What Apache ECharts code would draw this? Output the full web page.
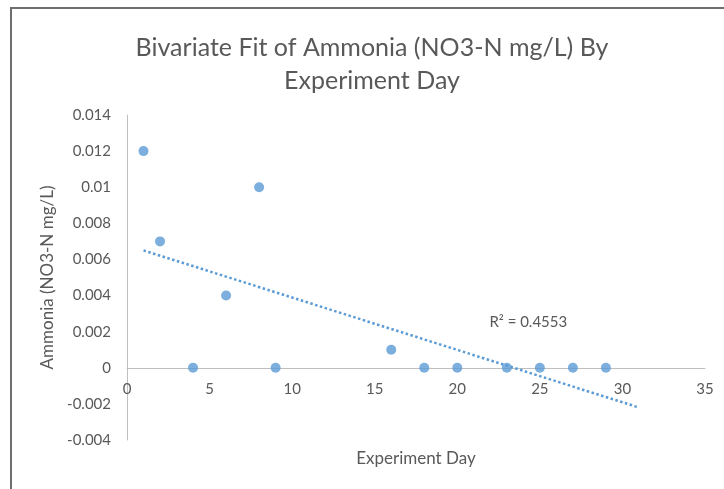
<!DOCTYPE html>
<html>
<head>
<meta charset="utf-8">
<script src="https://cdn.jsdelivr.net/npm/echarts@6/dist/echarts.min.js"></script>
<style>
  html, body { margin: 0; padding: 0; background: #fff; }
  #chart { width: 724px; height: 489px; }
</style>
</head>
<body>
<div id="chart"></div>
<script>
// experiment day vs ammonia readings
const days = [1, 2, 4, 6, 8, 9, 16, 18, 20, 23, 25, 27, 29];
const ammonia = [0.012, 0.007, 0, 0.004, 0.01, 0, 0.001, 0, 0, 0, 0, 0, 0];

// linear trendline end points as drawn in the picture
const trendDays = [1, 31];
const trendValues = [0.0065, -0.0022];
const rSquaredText = "R² = 0.4553";

const xTicks = [0, 5, 10, 15, 20, 25, 30, 35];
const yTicks = [-0.004, -0.002, 0, 0.002, 0.004, 0.006, 0.008, 0.01, 0.012, 0.014];

const blue = "#5b9bd5";
const grey = "#595959";
const font = "Lato";

const gridH = 325;
const yMin = yTicks[0];
const yMax = yTicks[yTicks.length - 1];
// x axis sits on the zero line
const zeroOffset = -gridH * (0 - yMin) / (yMax - yMin);

const chart = echarts.init(document.getElementById("chart"));

const option = {
  animation: false,
  backgroundColor: "#fff",
  textStyle: { fontFamily: font },
  title: {
    text: "Bivariate Fit of Ammonia (NO3-N mg/L) By\nExperiment Day",
    left: 367,
    textAlign: "center",
    top: 26,
    textStyle: {
      fontFamily: font,
      fontWeight: "normal",
      fontSize: 25,
      lineHeight: 33,
      color: grey,
    },
  },
  graphic: [
    {
      type: "polyline",
      shape: { points: [[11, 489], [11, 8], [724, 8]] },
      style: { stroke: "#6e6e6e", lineWidth: 2, fill: null },
    },
  ],
  grid: { left: 127, top: 115, width: 578, height: gridH, outerBoundsMode: "none", containLabel: false },
  xAxis: {
    type: "value",
    min: xTicks[0],
    max: xTicks[xTicks.length - 1],
    interval: 5,
    offset: zeroOffset,
    name: "Experiment Day",
    nameLocation: "middle",
    nameGap: 82,
    nameTextStyle: { color: grey, fontSize: 17 },
    axisLine: { onZero: false, lineStyle: { color: "#bfbfbf", width: 1 } },
    axisTick: { show: false },
    splitLine: { show: false },
    axisLabel: { color: grey, fontSize: 15, margin: 14 },
  },
  yAxis: {
    type: "value",
    min: yMin,
    max: yMax,
    interval: 0.002,
    name: "Ammonia (NO3-N mg/L)",
    nameLocation: "middle",
    nameGap: 69,
    nameTextStyle: { color: grey, fontSize: 17 },
    axisLine: { show: true, onZero: false, lineStyle: { color: "#bfbfbf", width: 1 } },
    axisTick: { show: false },
    splitLine: { show: false },
    axisLabel: {
      color: grey,
      fontSize: 15,
      margin: 16,
      formatter: (v) => String(Math.round(v * 1000) / 1000),
    },
  },
  series: [
    {
      type: "line",
      data: trendDays.map((d, i) => [d, trendValues[i]]),
      symbol: "none",
      lineStyle: { color: blue, width: 2.5, type: [2.5, 2.5] },
      z: 2,
      markPoint: {
        symbol: "circle",
        symbolSize: 0,
        data: [{ coord: [24.3, 0.0025] }],
        label: {
          show: true,
          formatter: rSquaredText,
          color: grey,
          fontSize: 15,
          fontFamily: font,
        },
      },
    },
    {
      type: "scatter",
      data: days.map((d, i) => [d, ammonia[i]]),
      symbol: "circle",
      symbolSize: 10,
      itemStyle: { color: blue },
      z: 3,
    },
  ],
};

chart.setOption(option);
</script>
</body>
</html>
